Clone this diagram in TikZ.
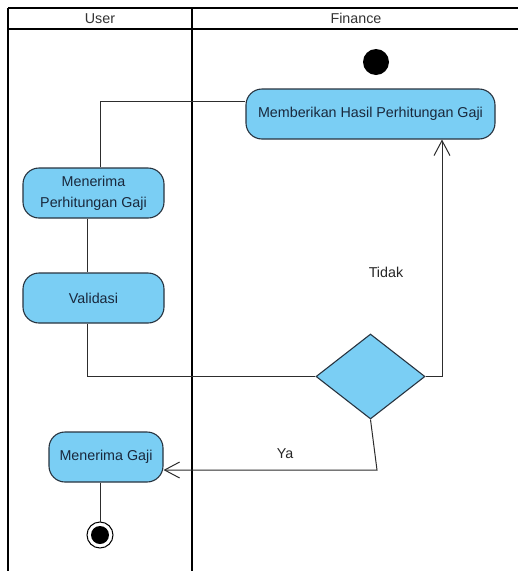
\documentclass[tikz,border=0pt]{standalone}
\usepackage{fontspec}
\setmainfont{Liberation Sans}
\usetikzlibrary{shapes.geometric,arrows.meta}
\definecolor{actfill}{RGB}{122,206,244}
\definecolor{actdraw}{RGB}{40,52,64}
\definecolor{acttext}{RGB}{25,40,60}
\definecolor{linecol}{RGB}{45,45,45}
\tikzset{
  act/.style={draw=actdraw, fill=actfill, line width=1.1pt, rounded corners=16pt,
    text=acttext, font=\fontsize{14.3}{21}\selectfont, align=center, inner sep=0pt,
    minimum height=50pt},
  decis/.style={diamond, draw=actdraw, fill=actfill, line width=1.1pt, inner sep=0pt,
    minimum width=109pt, minimum height=85pt},
  conn/.style={draw=linecol, line width=1pt},
  arr/.style={conn, -{Straight Barb[length=15pt,width=16pt,line width=1pt]}},
  lane/.style={draw=black, line width=2.2pt},
  lanetitle/.style={font=\fontsize{14.3}{16}\selectfont, text=black!80},
  lbl/.style={font=\fontsize{14.3}{16}\selectfont, text=black!85}
}
\begin{document}
\begin{tikzpicture}[x=1pt,y=-1pt]
\useasboundingbox (0,0) rectangle (518,571);
\fill[white] (0,0) rectangle (518,571);
% swimlanes
\draw[lane] (8,8) -- (518,8);
\draw[lane] (8,29) -- (518,29);
\draw[lane] (8,8) -- (8,571);
\draw[lane] (192,8) -- (192,571);
\node[lanetitle] (hUser) at (100,18.5) {User};
\node[lanetitle] (hFin) at (356,18.5) {Finance};
% nodes
\node[circle, fill=black, minimum size=26pt, inner sep=0pt] (start) at (376,62) {};
\node[act, minimum width=249pt] (memb) at (370.5,114) {Memberikan Hasil Perhitungan Gaji};
\node[act, minimum width=141pt] (mpg) at (93.5,193) {\raisebox{-1.5pt}{Menerima}\\\raisebox{-1.5pt}{Perhitungan Gaji}};
\node[act, minimum width=141pt] (val) at (93.5,298) {Validasi};
\node[decis] (dia) at (370.5,376.5) {};
\node[act, minimum width=114pt] (mg) at (106,457) {Menerima Gaji};
\node[circle, draw=black, fill=white, line width=1pt, minimum size=26pt, inner sep=0pt] (fin) at (100,535) {};
\node[circle, fill=black, minimum size=18pt, inner sep=0pt] (finin) at (fin.center) {};
% connectors
\draw[conn] (memb.west |- 0,101) -| (mpg.north -| 100,0);
\draw[conn] (mpg.south -| 87,0) -- (val.north -| 87,0);
\draw[conn] (val.south -| 87,0) |- (dia.west);
\draw[arr] (dia.east) -| (memb.south -| 442,0);
\coordinate (bend) at (377,470);
\draw[arr] (dia.south) -- (bend) -- (mg.east |- bend);
\draw[conn] (mg.south -| 100,0) -- (fin.north);
% labels
\node[lbl] (tidak) at (386,272) {Tidak};
\node[lbl] (ya) at (285,454) {Ya};
\end{tikzpicture}
\end{document}
